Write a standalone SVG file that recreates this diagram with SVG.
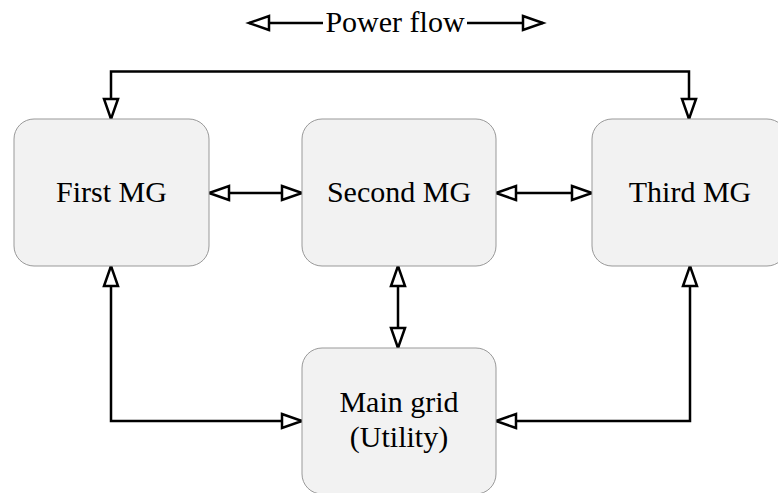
<svg xmlns="http://www.w3.org/2000/svg" width="778" height="493" viewBox="0 0 778 493">
<style>
.box{fill:#f2f2f2;stroke:#999;stroke-width:1}
.lbl{font-family:"Liberation Serif","Times New Roman",serif;font-size:30px;fill:#000;text-anchor:middle}
.con{fill:none;stroke:#000;stroke-width:2.5;marker-start:url(#ah);marker-end:url(#ah)}
</style>
<defs>
<marker id="ah" viewBox="-2 -2 24 18" refX="20" refY="7" markerWidth="24" markerHeight="18" markerUnits="userSpaceOnUse" orient="auto-start-reverse" overflow="visible">
<path d="M0,0 L20,7 L0,14 Z" fill="#fff" stroke="#000" stroke-width="2.5" stroke-linejoin="miter"/>
</marker>
</defs>
<rect width="778" height="493" fill="#fff"/>
<g id="legend">
<path class="con" d="M323,23 H249" style="marker-start:none"/>
<path class="con" d="M467,23 H543" style="marker-start:none"/>
<text class="lbl" x="395" y="32">Power flow</text>
</g>
<g id="connectors">
<path class="con" d="M111,119 V71.5 H689 V119"/>
<path class="con" d="M209,193 H302"/>
<path class="con" d="M496,193 H592"/>
<path class="con" d="M398,266 V348"/>
<path class="con" d="M111,266 V421 H302"/>
<path class="con" d="M690,266 V421 H496"/>
</g>
<g id="first-mg">
<rect class="box" x="14" y="119" width="195" height="147" rx="20"/>
<text class="lbl" x="111.5" y="202">First MG</text>
</g>
<g id="second-mg">
<rect class="box" x="302" y="119" width="194" height="147" rx="20"/>
<text class="lbl" x="399" y="202">Second MG</text>
</g>
<g id="third-mg">
<rect class="box" x="592" y="119" width="195" height="147" rx="20"/>
<text class="lbl" x="690" y="202">Third MG</text>
</g>
<g id="main-grid">
<rect class="box" x="302" y="348" width="194" height="146" rx="20"/>
<text class="lbl" x="399" y="412">Main grid</text>
<text class="lbl" x="399" y="447">(Utility)</text>
</g>
</svg>
